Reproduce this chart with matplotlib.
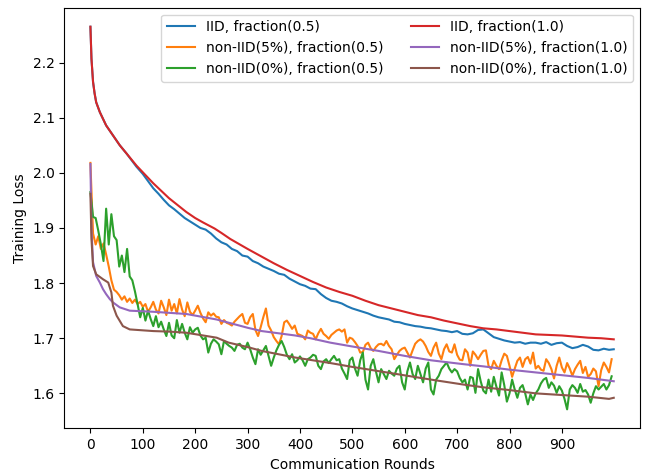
import numpy as np
import matplotlib
matplotlib.use("Agg")
from matplotlib import pyplot as plt

# ---- data ----
# noisy runs (fraction 0.5, non-IID) sampled every 5 rounds
noisy_rounds = list(range(0, 1000, 5))

orange_05 = [
    2.018, 1.890, 1.870, 1.885, 1.862, 1.872, 1.852, 1.830, 1.805, 1.788,
    1.784, 1.778, 1.770, 1.776, 1.766, 1.772, 1.764, 1.770, 1.762, 1.766,
    1.757, 1.762, 1.748, 1.756, 1.766, 1.752, 1.745, 1.768, 1.756, 1.742,
    1.770, 1.750, 1.762, 1.745, 1.771, 1.752, 1.740, 1.765, 1.748, 1.742,
    1.750, 1.759, 1.746, 1.736, 1.729, 1.747, 1.741, 1.745, 1.739, 1.738,
    1.726, 1.733, 1.728, 1.726, 1.723, 1.730, 1.735, 1.740, 1.744, 1.728,
    1.726, 1.738, 1.744, 1.715, 1.704, 1.720, 1.738, 1.754, 1.723, 1.714,
    1.702, 1.695, 1.689, 1.704, 1.729, 1.732, 1.725, 1.717, 1.723, 1.708,
    1.706, 1.704, 1.698, 1.714, 1.710, 1.708, 1.698, 1.709, 1.717, 1.708,
    1.704, 1.699, 1.706, 1.710, 1.714, 1.716, 1.712, 1.716, 1.692, 1.701,
    1.699, 1.693, 1.686, 1.674, 1.675, 1.688, 1.692, 1.682, 1.677, 1.684,
    1.689, 1.690, 1.687, 1.695, 1.686, 1.680, 1.662, 1.670, 1.677, 1.681,
    1.683, 1.674, 1.665, 1.678, 1.690, 1.695, 1.698, 1.694, 1.686, 1.675,
    1.668, 1.683, 1.692, 1.672, 1.662, 1.680, 1.689, 1.676, 1.674, 1.689,
    1.670, 1.661, 1.660, 1.680, 1.674, 1.650, 1.676, 1.670, 1.662, 1.670,
    1.677, 1.678, 1.650, 1.644, 1.659, 1.650, 1.644, 1.660, 1.672, 1.668,
    1.650, 1.630, 1.645, 1.659, 1.665, 1.648, 1.662, 1.666, 1.654, 1.674,
    1.645, 1.650, 1.643, 1.641, 1.662, 1.655, 1.644, 1.627, 1.650, 1.665,
    1.647, 1.638, 1.655, 1.645, 1.632, 1.644, 1.652, 1.659, 1.637, 1.648,
    1.630, 1.635, 1.645, 1.640, 1.613, 1.642, 1.656, 1.648, 1.638, 1.662,
]

green_05 = [
    1.965, 1.920, 1.918, 1.895, 1.870, 1.840, 1.935, 1.870, 1.925, 1.885,
    1.878, 1.830, 1.850, 1.820, 1.862, 1.812, 1.805, 1.785, 1.762, 1.738,
    1.755, 1.732, 1.750, 1.735, 1.722, 1.740, 1.720, 1.730, 1.716, 1.704,
    1.728, 1.705, 1.700, 1.733, 1.710, 1.726, 1.710, 1.698, 1.720, 1.710,
    1.716, 1.719, 1.705, 1.698, 1.701, 1.674, 1.690, 1.698, 1.694, 1.689,
    1.671, 1.695, 1.690, 1.686, 1.683, 1.677, 1.688, 1.690, 1.683, 1.680,
    1.692, 1.680, 1.665, 1.653, 1.680, 1.670, 1.678, 1.686, 1.668, 1.650,
    1.665, 1.678, 1.688, 1.695, 1.684, 1.670, 1.662, 1.671, 1.656, 1.660,
    1.667, 1.660, 1.650, 1.662, 1.665, 1.670, 1.668, 1.650, 1.644, 1.658,
    1.662, 1.655, 1.662, 1.668, 1.660, 1.662, 1.645, 1.636, 1.626, 1.660,
    1.665, 1.645, 1.632, 1.660, 1.674, 1.625, 1.607, 1.650, 1.662, 1.640,
    1.620, 1.644, 1.635, 1.626, 1.641, 1.636, 1.632, 1.645, 1.650, 1.620,
    1.607, 1.640, 1.656, 1.635, 1.626, 1.650, 1.635, 1.620, 1.645, 1.656,
    1.607, 1.598, 1.625, 1.632, 1.644, 1.650, 1.656, 1.645, 1.638, 1.644,
    1.640, 1.628, 1.620, 1.625, 1.607, 1.630, 1.628, 1.601, 1.644, 1.622,
    1.605, 1.600, 1.625, 1.603, 1.630, 1.612, 1.596, 1.638, 1.615, 1.585,
    1.600, 1.625, 1.607, 1.592, 1.610, 1.615, 1.600, 1.580, 1.598, 1.588,
    1.600, 1.607, 1.618, 1.625, 1.628, 1.610, 1.620, 1.614, 1.601, 1.613,
    1.605, 1.590, 1.571, 1.607, 1.615, 1.610, 1.601, 1.617, 1.603, 1.606,
    1.598, 1.583, 1.600, 1.613, 1.607, 1.612, 1.617, 1.607, 1.615, 1.631,
]

blue_rounds = [0, 2, 5, 8, 11, 18, 24, 30, 43, 56, 69, 88] + list(range(100, 1000, 10)) + [999]
blue_05 = [
    2.265, 2.207, 2.165, 2.144, 2.128, 2.110, 2.098, 2.086, 2.068, 2.050, 2.035, 2.011,
    1.998, 1.985, 1.972, 1.962, 1.951, 1.941, 1.934, 1.926, 1.918, 1.912,
    1.906, 1.900, 1.897, 1.890, 1.881, 1.874, 1.870, 1.862, 1.858, 1.850,
    1.848, 1.840, 1.836, 1.830, 1.826, 1.822, 1.817, 1.815, 1.808, 1.803,
    1.798, 1.795, 1.790, 1.789, 1.780, 1.773, 1.768, 1.766, 1.763, 1.758,
    1.754, 1.751, 1.748, 1.745, 1.741, 1.738, 1.736, 1.734, 1.730, 1.729,
    1.726, 1.724, 1.722, 1.721, 1.719, 1.718, 1.716, 1.714, 1.713, 1.711,
    1.713, 1.708, 1.707, 1.709, 1.715, 1.716, 1.709, 1.702, 1.699, 1.696,
    1.694, 1.692, 1.693, 1.690, 1.692, 1.692, 1.690, 1.693, 1.688, 1.691,
    1.692, 1.686, 1.682, 1.684, 1.688, 1.685, 1.679, 1.678, 1.681, 1.679, 1.680,
]

red_rounds = [0, 2, 5, 8, 11, 18, 24, 30, 43, 56, 69, 88, 100, 120, 150, 183,
              200, 215, 237, 250, 267, 300, 325, 350, 375, 400, 425, 450, 475,
              500, 525, 550, 575, 600, 625, 650, 675, 700, 725, 750, 775, 800,
              825, 850, 875, 900, 925, 950, 975, 999]
red_10 = [2.265, 2.207, 2.165, 2.144, 2.128, 2.110, 2.098, 2.086, 2.068, 2.050,
          2.035, 2.013, 2.001, 1.981, 1.954, 1.929, 1.918, 1.910, 1.899, 1.891,
          1.880, 1.862, 1.849, 1.836, 1.824, 1.813, 1.802, 1.792, 1.784, 1.777,
          1.768, 1.760, 1.754, 1.748, 1.742, 1.738, 1.732, 1.727, 1.722, 1.718,
          1.716, 1.713, 1.710, 1.707, 1.706, 1.705, 1.703, 1.701, 1.700, 1.698]

purple_rounds = [0, 2, 5, 11, 18, 24, 30, 37, 43, 56, 75, 120, 183, 241, 300, 327,
                 391, 420, 458, 500, 550, 600, 650, 712, 750, 800, 850, 900, 950, 999]
purple_10 = [2.016, 1.898, 1.838, 1.813, 1.801, 1.789, 1.780, 1.771, 1.765, 1.756,
             1.750, 1.748, 1.744, 1.734, 1.719, 1.713, 1.705, 1.700, 1.692, 1.685,
             1.677, 1.668, 1.660, 1.653, 1.649, 1.643, 1.638, 1.633, 1.628, 1.622]

brown_rounds = [0, 2, 5, 11, 24, 34, 40, 43, 50, 62, 75, 120, 151, 183, 241, 264,
                300, 327, 391, 458, 500, 585, 650, 712, 750, 800, 850, 900, 950,
                990, 999]
brown_10 = [1.962, 1.880, 1.831, 1.816, 1.807, 1.801, 1.783, 1.759, 1.741, 1.722,
            1.716, 1.713, 1.712, 1.710, 1.701, 1.692, 1.684, 1.677, 1.665, 1.655,
            1.648, 1.635, 1.625, 1.616, 1.611, 1.606, 1.600, 1.597, 1.594, 1.590,
            1.592]

labels = ["IID, fraction(0.5)", "non-IID(5%), fraction(0.5)", "non-IID(0%), fraction(0.5)",
          "IID, fraction(1.0)", "non-IID(5%), fraction(1.0)", "non-IID(0%), fraction(1.0)"]

fig, ax = plt.subplots(figsize=(6.49, 4.74), dpi=100)
fig.subplots_adjust(left=0.099, right=0.986, bottom=0.096, top=0.984)

ax.plot(blue_rounds, blue_05, color="C0", lw=1.5, label=labels[0])
ax.plot(noisy_rounds, orange_05, color="C1", lw=1.5, label=labels[1])
ax.plot(noisy_rounds, green_05, color="C2", lw=1.5, label=labels[2])
ax.plot(red_rounds, red_10, color="C3", lw=1.5, label=labels[3])
ax.plot(purple_rounds, purple_10, color="C4", lw=1.5, label=labels[4])
ax.plot(brown_rounds, brown_10, color="C5", lw=1.5, label=labels[5])

ax.set_xticks(np.arange(0, 1000, 100))
ax.set_xlabel("Communication Rounds")
ax.set_ylabel("Training Loss")
ax.legend(ncol=2, loc="upper right")

fig.savefig("out.png", dpi=100)
